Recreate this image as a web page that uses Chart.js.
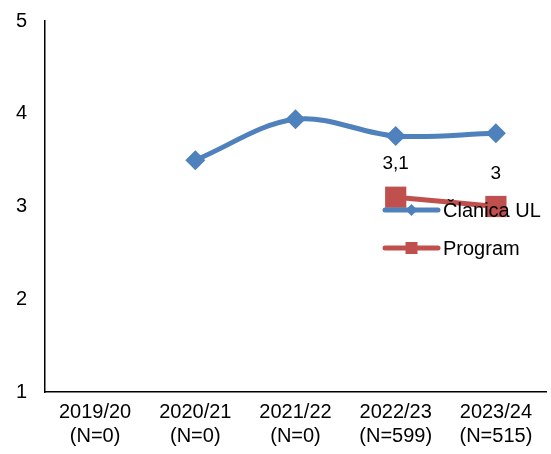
<!DOCTYPE html>
<html>
<head>
<meta charset="utf-8">
<script src="https://cdn.jsdelivr.net/npm/chart.js@4"></script>
<style>
  html, body { margin: 0; padding: 0; background: #fff; }
  #wrap { width: 551px; height: 454px; }
</style>
</head>
<body>
<div id="wrap"><canvas id="chart"></canvas></div>
<script>
const categories = [['2019/20', '(N=0)'], ['2020/21', '(N=0)'], ['2021/22', '(N=0)'], ['2022/23', '(N=599)'], ['2023/24', '(N=515)']];
const clanicaValues = [null, 3.5, 3.94, 3.76, 3.79];
const programValues = [null, null, null, 3.1, 3.0];
const programLabels = [null, null, null, '3,1', '3'];

const FONT = '"Liberation Sans", Arial, sans-serif';

// legend drawn inside the plot, over the lines
const insideLegend = {
  id: 'insideLegend',
  afterDatasetsDraw(chart) {
    const ctx = chart.ctx;
    const x0 = 385, x1 = 438;
    const rows = [210, 248];
    chart.data.datasets.forEach((ds, i) => {
      const y = rows[i];
      ctx.save();
      ctx.strokeStyle = ds.borderColor;
      ctx.lineWidth = 5;
      ctx.lineCap = 'round';
      ctx.beginPath();
      ctx.moveTo(x0, y);
      ctx.lineTo(x1, y);
      ctx.stroke();
      ctx.fillStyle = ds.borderColor;
      const cx = (x0 + x1) / 2;
      if (ds.pointStyle === 'rectRot') {
        ctx.beginPath();
        ctx.moveTo(cx, y - 6);
        ctx.lineTo(cx + 6, y);
        ctx.lineTo(cx, y + 6);
        ctx.lineTo(cx - 6, y);
        ctx.closePath();
        ctx.fill();
      } else {
        ctx.fillRect(cx - 6, y - 6, 12, 12);
      }
      ctx.fillStyle = '#000';
      ctx.font = '20px ' + FONT;
      ctx.textBaseline = 'middle';
      ctx.fillText(ds.label, x1 + 5, y + 1);
      ctx.restore();
    });
  }
};

// data labels above the program points
const pointLabels = {
  id: 'pointLabels',
  afterDatasetsDraw(chart) {
    const ctx = chart.ctx;
    const meta = chart.getDatasetMeta(1);
    ctx.save();
    ctx.fillStyle = '#000';
    ctx.font = '19px ' + FONT;
    ctx.textAlign = 'center';
    ctx.textBaseline = 'middle';
    meta.data.forEach((pt, i) => {
      if (programLabels[i] == null) return;
      ctx.fillText(programLabels[i], pt.x, pt.y - 33);
    });
    ctx.restore();
  }
};

new Chart(document.getElementById('chart'), {
  type: 'line',
  data: {
    labels: categories,
    datasets: [
      {
        label: 'Članica UL',
        data: clanicaValues,
        borderColor: '#4F81BD',
        backgroundColor: '#4F81BD',
        borderWidth: 5,
        pointStyle: 'rectRot',
        pointRadius: 10,
        pointHoverRadius: 10,
        pointBorderWidth: 0,
        tension: 0.35
      },
      {
        label: 'Program',
        data: programValues,
        borderColor: '#C0504D',
        backgroundColor: '#C0504D',
        borderWidth: 5,
        pointStyle: 'rect',
        pointRadius: 15,
        pointHoverRadius: 15,
        pointBorderWidth: 0,
        tension: 0.35
      }
    ]
  },
  options: {
    responsive: true,
    maintainAspectRatio: false,
    animation: false,
    layout: { autoPadding: false, padding: { top: 21, right: 5, left: 0, bottom: 0 } },
    plugins: {
      legend: { display: false },
      tooltip: { enabled: false }
    },
    scales: {
      x: {
        offset: true,
        grid: { display: false, drawTicks: false, offset: true },
        border: { color: '#000', width: 1.5 },
        ticks: { color: '#000', font: { family: FONT, size: 20, lineHeight: 1.2 }, padding: 8, maxRotation: 0, autoSkip: false },
        afterFit(scale) {
          scale.height = 62;
          scale.paddingLeft = 0;
          scale.paddingRight = 0;
        }
      },
      y: {
        min: 1,
        max: 5,
        grid: { display: false, drawTicks: false },
        border: { color: '#000', width: 1.5 },
        ticks: { stepSize: 1, color: '#000', font: { family: FONT, size: 20 }, padding: 18 },
        afterFit(scale) {
          scale.width = 45;
          scale.paddingTop = 0;
          scale.paddingBottom = 0;
        }
      }
    }
  },
  plugins: [insideLegend, pointLabels]
});
</script>
</body>
</html>
